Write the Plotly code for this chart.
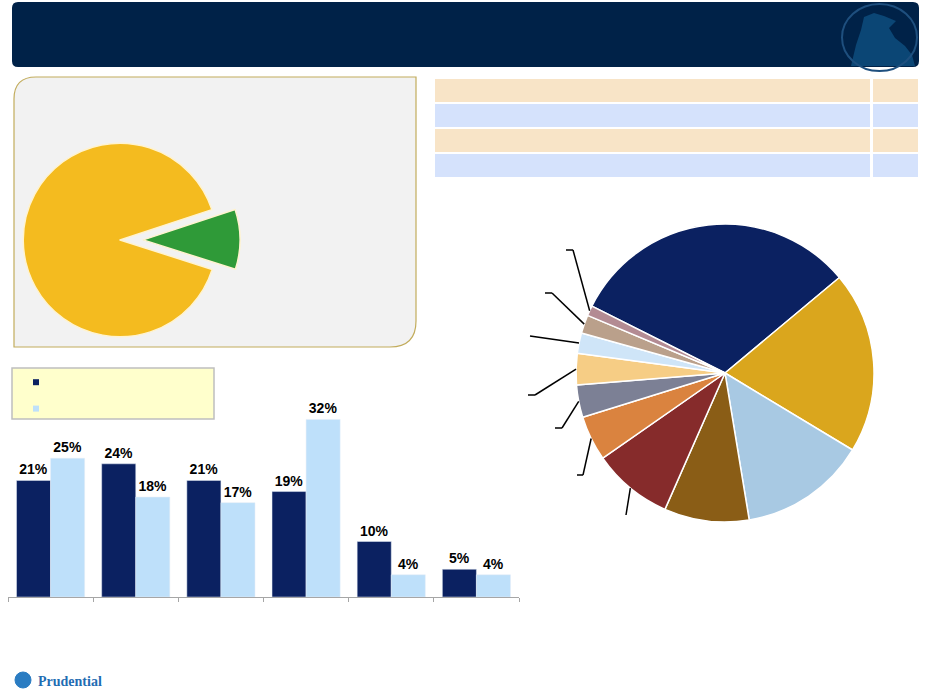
import math
import plotly.graph_objects as go

W, H = 931, 693

# small pie (left panel)
share_labels = ["Green", "Yellow"]
share_values = [10, 90]
share_colors = ["#2f9a38", "#f4bb1f"]

# bar chart
bar_categories = ["C1", "C2", "C3", "C4", "C5", "C6"]
series_a = [21, 24, 21, 19, 10, 5]
series_b = [25, 18, 17, 32, 4, 4]

# large pie (right)
mix_labels = ["S1", "S2", "S3", "S4", "S5", "S6", "S7", "S8", "S9", "S10", "S11"]
mix_values = [31.5, 19.7, 13.75, 9.2, 8.7, 4.9, 3.5, 3.4, 2.2, 2.0, 1.1]
mix_colors = ["#0b2161", "#daa61d", "#a8c9e3", "#8a5d16", "#862b2b", "#da833f",
              "#7c8095", "#f6cd85", "#cfe5f8", "#baa08b", "#b38b93"]


def px(x):
    return x / W


def py(y):
    return 1 - y / H


fig = go.Figure()

# left pie: centre (120, 240), radius ~97, pulled slice
fig.add_trace(go.Pie(
    labels=share_labels, values=share_values, sort=False,
    direction="clockwise", rotation=71.7,
    pull=[0.24, 0], textinfo="none", hoverinfo="label+percent",
    marker=dict(colors=share_colors, line=dict(color="#fff3cf", width=1.5)),
    domain=dict(x=[px(0), px(240)], y=[py(360), py(120)]),
    showlegend=False,
))

# right pie: centre (725, 373), radius 149
PIE_CX, PIE_CY, PIE_R = 725, 373, 149
PIE_ROT = -63.3
fig.add_trace(go.Pie(
    labels=mix_labels, values=mix_values, sort=False,
    direction="clockwise", rotation=PIE_ROT,
    textinfo="none", hoverinfo="label+percent",
    marker=dict(colors=mix_colors, line=dict(color="white", width=1.5)),
    domain=dict(x=[px(PIE_CX - PIE_R), px(PIE_CX + PIE_R)],
                y=[py(PIE_CY + PIE_R), py(PIE_CY - PIE_R)]),
    showlegend=False,
))

# table (top right)
fig.add_trace(go.Table(
    domain=dict(x=[px(434), px(919)], y=[py(200), py(78)]),
    columnwidth=[435, 47],
    header=dict(values=["", ""], height=25, fill_color="#f8e4c7",
                line=dict(color="white", width=2.5)),
    cells=dict(values=[["", "", ""], ["", "", ""]], height=25,
               fill_color=[["#d5e2fc", "#f8e4c7", "#d5e2fc"]] * 2,
               line=dict(color="white", width=2.5)),
))

# bars
fig.add_trace(go.Bar(
    x=bar_categories, y=series_a, marker_color="#0b2161",
    text=series_a, texttemplate="<b>%{text}%</b>", textposition="outside",
    cliponaxis=False, showlegend=False,
))
fig.add_trace(go.Bar(
    x=bar_categories, y=series_b, marker_color="#bee0fa",
    text=series_b, texttemplate="<b>%{text}%</b>", textposition="outside",
    cliponaxis=False, showlegend=False,
))

# legend entries (text missing in source)
fig.add_trace(go.Scatter(x=[None], y=[None], mode="markers", name=" ",
                         marker=dict(symbol="square", size=6, color="#0b2161")))
fig.add_trace(go.Scatter(x=[None], y=[None], mode="markers", name=" ",
                         marker=dict(symbol="square", size=6, color="#bee0fa")))

# leader lines for the small slices of the right pie
label_anchors = {
    10: ((573, 250), 566),
    9: ((552, 293), 545),
    8: ((530, 336), None),
    7: ((535, 395), 528),
    6: ((562, 428), 555),
    5: ((583, 475), 577),
    4: ((626, 515), None),
}
shapes = []
total = sum(mix_values)
start = PIE_ROT
for i, v in enumerate(mix_values):
    span = v / total * 360
    mid = math.radians(start + span / 2)
    start += span
    if i not in label_anchors:
        continue
    sx = PIE_CX + PIE_R * math.sin(mid)
    sy = PIE_CY - PIE_R * math.cos(mid)
    (ex, ey), tick = label_anchors[i]
    shapes.append(dict(type="line", xref="paper", yref="paper",
                       x0=px(sx), y0=py(sy), x1=px(ex), y1=py(ey),
                       line=dict(color="black", width=1.5)))
    if tick is not None:
        shapes.append(dict(type="line", xref="paper", yref="paper",
                           x0=px(ex), y0=py(ey), x1=px(tick), y1=py(ey),
                           line=dict(color="black", width=1.5)))

# header bar
shapes.insert(0, dict(
    type="path", xref="paper", yref="paper", layer="below",
    path=(f"M{px(18)},{py(2)} L{px(913)},{py(2)} Q{px(919)},{py(2)} {px(919)},{py(8)} "
          f"L{px(919)},{py(61)} Q{px(919)},{py(67)} {px(913)},{py(67)} "
          f"L{px(18)},{py(67)} Q{px(12)},{py(67)} {px(12)},{py(61)} "
          f"L{px(12)},{py(8)} Q{px(12)},{py(2)} {px(18)},{py(2)} Z"),
    fillcolor="#002248", line=dict(width=0)))
# header logo
rock = [(851, 66), (856, 45), (861, 30), (864, 17), (874, 13), (884, 16), (896, 21),
        (889, 28), (895, 38), (905, 46), (912, 55), (915, 66)]
shapes.append(dict(
    type="path", xref="paper", yref="paper",
    path="M" + " L".join(f"{px(x)},{py(y)}" for x, y in rock) + " Z",
    fillcolor="#0b4675", line=dict(width=0)))
shapes.append(dict(type="circle", xref="paper", yref="paper",
                   x0=px(842), y0=py(71), x1=px(917), y1=py(4),
                   line=dict(color="#1e4f7e", width=2)))

# left panel
shapes.insert(0, dict(
    type="path", xref="paper", yref="paper", layer="below",
    path=(f"M{px(36)},{py(77)} L{px(416)},{py(77)} L{px(416)},{py(321)} "
          f"Q{px(416)},{py(347)} {px(390)},{py(347)} L{px(14)},{py(347)} "
          f"L{px(14)},{py(99)} Q{px(14)},{py(77)} {px(36)},{py(77)} Z"),
    fillcolor="#f2f2f2", line=dict(color="#c2ac5c", width=1.2)))

# legend box
shapes.insert(0, dict(type="rect", xref="paper", yref="paper", layer="below",
                      x0=px(12), y0=py(368), x1=px(214), y1=py(419),
                      fillcolor="#ffffcc", line=dict(color="#bfbfbf", width=1.5)))

# footer logo mark
shapes.append(dict(type="circle", xref="paper", yref="paper",
                   x0=px(15), y0=py(688), x1=px(31), y1=py(672),
                   fillcolor="#2a7cc2", line=dict(color="#2a7cc2", width=1)))

fig.update_layout(
    width=W, height=H,
    margin=dict(l=0, r=0, t=0, b=0),
    paper_bgcolor="white", plot_bgcolor="rgba(0,0,0,0)",
    font=dict(family="Liberation Sans, Arial, sans-serif", color="black"),
    barmode="group", bargap=0.2, bargroupgap=0,
    xaxis=dict(domain=[px(8), px(519)], type="category",
               tickson="boundaries", ticks="outside", ticklen=4,
               tickcolor="#a6a6a6", showline=True, linecolor="#a6a6a6",
               linewidth=1, showticklabels=False, showgrid=False),
    yaxis=dict(domain=[py(597), py(397.2)], range=[0, 36], visible=False,
               showgrid=False, zeroline=False),
    showlegend=True,
    legend=dict(x=px(16), y=py(364), xanchor="left", yanchor="top",
                bgcolor="rgba(0,0,0,0)", font=dict(size=18),
                itemsizing="trace"),
    shapes=shapes,
    annotations=[dict(text="<b>Prudential</b>", x=px(36), y=py(681),
                      xref="paper", yref="paper", xanchor="left", yanchor="middle",
                      showarrow=False,
                      font=dict(family="Liberation Serif, DejaVu Serif, serif",
                                size=14, color="#1f6db3"))],
)
fig.update_traces(textfont=dict(family="Liberation Sans, Arial", size=14, color="black"),
                  selector=dict(type="bar"))

fig.write_html("out.html", config={"displayModeBar": False},
               post_script="document.body.style.margin='0';")
